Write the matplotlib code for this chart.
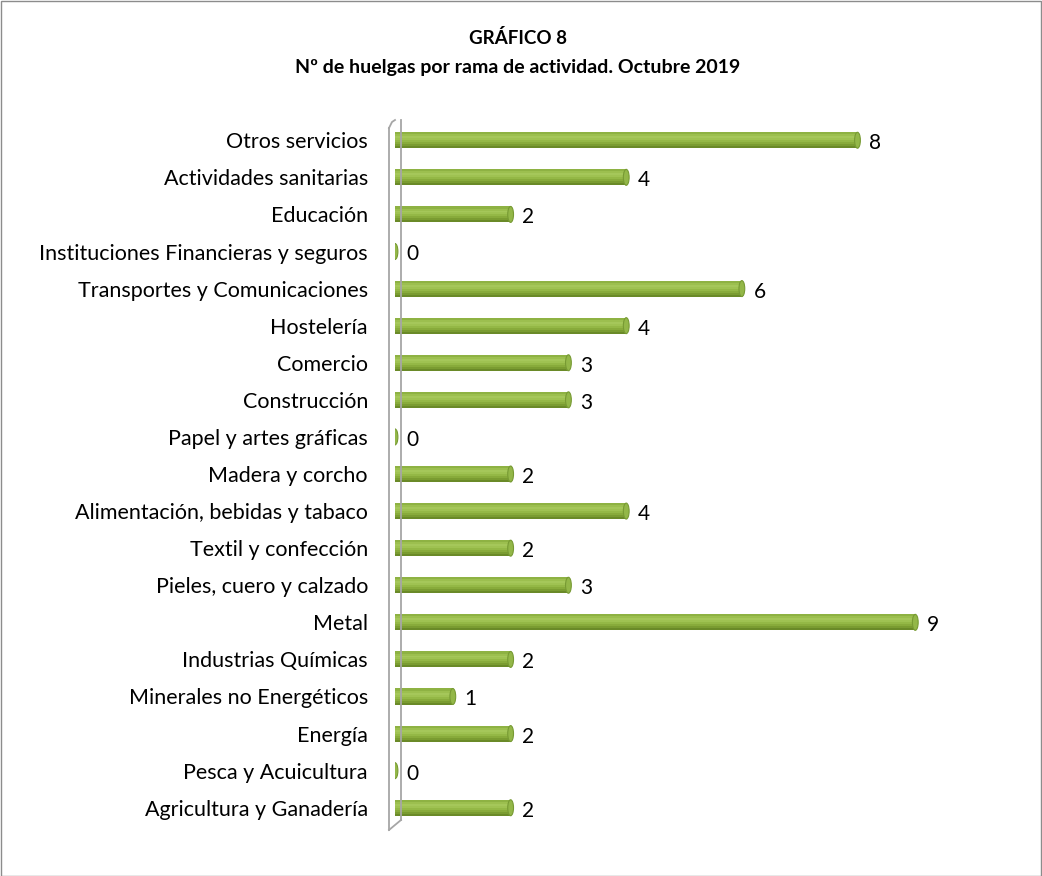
import matplotlib.pyplot as plt
from matplotlib.patches import Ellipse, Rectangle
from matplotlib.lines import Line2D

# Strikes by activity branch, October 2019 (bottom to top as drawn)
ramas = ['Agricultura y Ganadería',
         'Pesca y Acuicultura',
         'Energía',
         'Minerales no Energéticos',
         'Industrias Químicas',
         'Metal',
         'Pieles, cuero y calzado',
         'Textil y confección',
         'Alimentación, bebidas y tabaco',
         'Madera y corcho',
         'Papel y artes gráficas',
         'Construcción',
         'Comercio',
         'Hostelería',
         'Transportes y Comunicaciones',
         'Instituciones Financieras y seguros',
         'Educación',
         'Actividades sanitarias',
         'Otros servicios']
huelgas = [2, 0, 2, 1, 2, 9, 3, 2, 4, 2, 0, 3, 3, 4, 6, 0, 2, 4, 8]

plt.rcParams['font.family'] = ['Lato', 'DejaVu Sans']

fig = plt.figure(figsize=(10.42, 8.76), dpi=100)
W, H = 1042.0, 876.0

# outer frame
fig.add_artist(Rectangle((0.5 / W, 0.5 / H), 1 - 1.5 / W, 1 - 1.5 / H,
                         transform=fig.transFigure, fill=False,
                         edgecolor='#8c8c8c', linewidth=1))

ax = fig.add_axes([395 / W, 46 / H, 607 / W, 712 / H])
ax.set_xlim(0, 10.5)
ax.set_ylim(-0.6, 18.6)
for s in ax.spines.values():
    s.set_visible(False)
ax.set_xticks([])

pos = list(range(len(ramas)))
bh = 0.43
# cylinder look: stacked bands from dark (bottom) to light (upper middle)
bands = ['#6a8a28', '#7a9c31', '#88ab3b', '#94b846', '#9fc252',
         '#a5c75a', '#9cbf4f', '#8eb243']
nb = len(bands)
for k, c in enumerate(bands):
    off = -bh / 2 + bh * (k + 0.5) / nb
    ax.barh([p + off for p in pos], huelgas, height=bh / nb + 0.004,
            color=c, edgecolor='none', zorder=2)
for p, v in zip(pos, huelgas):
    ax.add_patch(Ellipse((v, p), 0.1, bh, facecolor='#93b748',
                         edgecolor='#779a33', linewidth=0.8, zorder=4))
    ax.text(v + 0.2, p - 0.08, str(v), va='center', ha='left',
            fontsize=15, color='black')

ax.set_yticks(pos)
ax.set_yticklabels(ramas, fontsize=15.5)
ax.tick_params(axis='y', length=0, pad=19.5)

# 3D wall on the left
wall = '#a6a6a6'
fig.add_artist(Line2D([389 / W, 389 / W], [1 - 128 / H, 1 - 830 / H],
                      transform=fig.transFigure, color=wall, lw=1.3))
fig.add_artist(Line2D([401 / W, 401 / W], [1 - 120 / H, 1 - 820 / H],
                      transform=fig.transFigure, color=wall, lw=1.3))
fig.add_artist(Line2D([389 / W, 401 / W], [1 - 830 / H, 1 - 820 / H],
                      transform=fig.transFigure, color=wall, lw=1.3))
fig.add_artist(Line2D([389 / W, 392 / W, 395 / W], [1 - 128 / H, 1 - 122 / H, 1 - 120 / H],
                      transform=fig.transFigure, color=wall, lw=1.3))

fig.text(0.497, 1 - 38 / H, 'GRÁFICO 8', ha='center', va='center',
         fontsize=13.5, fontweight='bold')
fig.text(0.497, 1 - 68 / H, 'Nº de huelgas por rama de actividad. Octubre 2019',
         ha='center', va='center', fontsize=14, fontweight='bold')

plt.savefig('out.png', dpi=100)
